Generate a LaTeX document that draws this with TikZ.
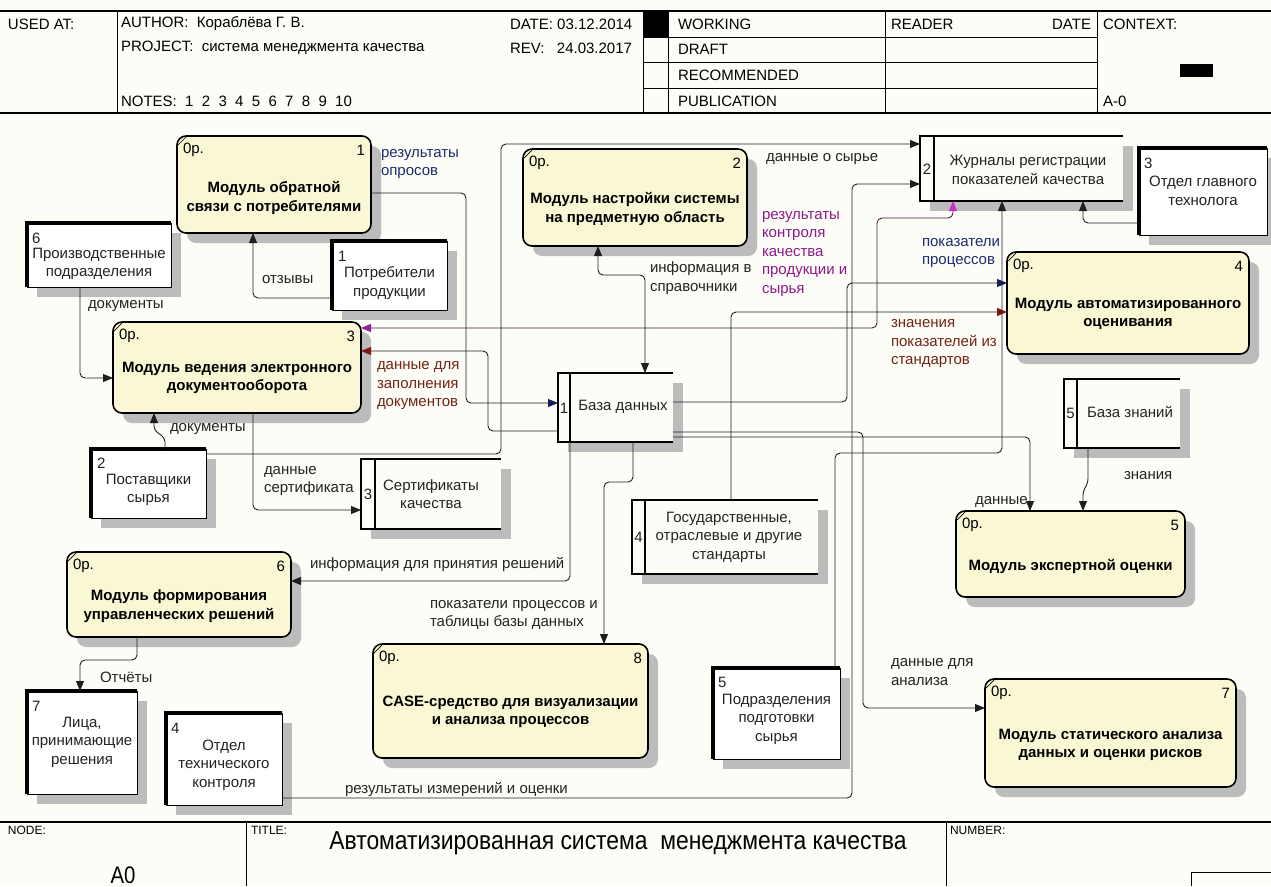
\documentclass[tikz,border=0pt]{standalone}
\usepackage{fontspec}
\setmainfont{Liberation Sans}
\usetikzlibrary{arrows.meta,shadows}
\definecolor{bgc}{RGB}{253,253,247}
\definecolor{fboxc}{RGB}{249,247,212}
\definecolor{shadc}{RGB}{188,188,188}
\definecolor{linec}{RGB}{30,30,30}
\definecolor{labc}{RGB}{35,35,35}
\definecolor{navyc}{RGB}{20,30,90}
\definecolor{redc}{RGB}{135,20,20}
\definecolor{purpc}{RGB}{150,30,150}
\definecolor{magc}{RGB}{195,50,195}
\definecolor{navylab}{RGB}{30,45,110}
\definecolor{redlab}{RGB}{115,35,20}
\definecolor{purplab}{RGB}{140,25,140}
\definecolor{purpline}{RGB}{70,25,70}
\begin{document}
\begin{tikzpicture}[x=1pt,y=-1pt,
  font=\fontsize{15}{18.5}\selectfont,
  every node/.style={inner sep=0pt, outer sep=0pt, text=labc},
  shad/.style={drop shadow={shadow xshift=10pt, shadow yshift=-10pt, fill=shadc, opacity=1}},
  fbox/.style={draw=black, line width=1.6pt, rounded corners=9pt, fill=fboxc, shad},
  ent/.style={draw=black, line width=1pt, fill=white, shad},
  store/.style={fill=bgc, shad},
  ftitle/.style={font=\fontsize{15}{18.5}\selectfont\bfseries, align=center, text=black},
  hdr/.style={anchor=west, text=black},
  lab/.style={anchor=west, align=left},
  conn/.style={draw=linec, line width=0.9pt, rounded corners=5pt},
  arr/.style={conn, -{Triangle[length=10pt,width=8pt]}},
  arrnavy/.style={conn, -{Triangle[length=10pt,width=8pt,color=navyc]}},
  arrred/.style={conn, -{Triangle[length=10pt,width=8pt,color=redc]}},
  arrboth/.style={conn, {Triangle[length=10pt,width=8pt]}-{Triangle[length=10pt,width=8pt]}},
  arrpurp/.style={conn, draw=purpline, {Triangle[length=10pt,width=8pt,color=magc]}-{Triangle[length=10pt,width=8pt,color=purpc]}}
]
\fill[bgc] (0,0) rectangle (1271,886);
\useasboundingbox (0,0) rectangle (1271,886);

% ---------- header ----------
\draw[line width=1.5pt] (0,11) -- (1271,11);
\draw[line width=1.5pt] (0,113) -- (1271,113);
\foreach \xx in {117,643,668,885,1097} \draw[line width=1pt] (\xx,11) -- (\xx,113);
\foreach \yy in {37,62,88} \draw[line width=1pt] (643,\yy) -- (1097,\yy);
\fill[black] (643,11) rectangle (668,37);
\fill[black] (1180,64) rectangle (1213,77);
\node[hdr] (hused) at (8,24) {USED AT:};
\node[hdr] (hauth) at (121,24) {AUTHOR:\ \ Кораблёва Г. В.};
\node[hdr] (hproj) at (121,48) {PROJECT:\ \ система менеджмента качества};
\node[hdr] (hnotes) at (121,101) {NOTES:\ \ 1\ \ 2\ \ 3\ \ 4\ \ 5\ \ 6\ \ 7\ \ 8\ \ 9\ \ 10};
\node[hdr] (hdate) at (510,24) {DATE:\ 03.12.2014};
\node[hdr] (hrev) at (510,48) {REV:\ \ \ 24.03.2017};
\node[hdr] (hwork) at (678,24) {WORKING};
\node[hdr] (hdraft) at (678,49) {DRAFT};
\node[hdr] (hrec) at (678,75) {RECOMMENDED};
\node[hdr] (hpub) at (678,101) {PUBLICATION};
\node[hdr] (hread) at (891,24) {READER};
\node[anchor=east, text=black] (hdate2) at (1091,24) {DATE};
\node[hdr] (hctx) at (1103,24) {CONTEXT:};
\node[hdr] (ha0) at (1103,101) {A-0};

% ---------- footer ----------
\draw[line width=1.8pt] (0,822) -- (1271,822);
\draw[line width=1pt] (246,822) -- (246,886);
\draw[line width=1pt] (946,822) -- (946,886);
\draw[line width=1pt] (1191,886) -- (1191,872) -- (1271,872);
\node[hdr, font=\fontsize{12}{14}\selectfont] (fnode) at (8,830) {NODE:};
\node[hdr, font=\fontsize{12}{14}\selectfont] (ftitlelab) at (251,830) {TITLE:};
\node[hdr, font=\fontsize{12}{14}\selectfont] (fnum) at (950,830) {NUMBER:};
\node[text=black, font=\fontsize{26}{28}\selectfont] (ftitletext) at (618,843) {\scalebox{0.88}[1]{Автоматизированная система\ \ менеджмента качества}};
\node[text=black, font=\fontsize{24}{26}\selectfont] (fa0) at (123,875) {\scalebox{0.85}[1]{A0}};

% ---------- function boxes ----------
\node[fbox, minimum width=194pt, minimum height=97pt] (F1) at (274,184.5) {};
\node[fbox, minimum width=224pt, minimum height=97pt] (F2) at (635,197.5) {};
\node[fbox, minimum width=248pt, minimum height=91pt] (F3) at (237,367.5) {};
\node[fbox, minimum width=242pt, minimum height=102pt] (F4) at (1128,303) {};
\node[fbox, minimum width=229pt, minimum height=86pt] (F5) at (1070.5,554) {};
\node[fbox, minimum width=224pt, minimum height=85pt] (F6) at (179,594.5) {};
\node[fbox, minimum width=251pt, minimum height=108pt] (F7) at (1110.5,733) {};
\node[fbox, minimum width=275pt, minimum height=114pt] (F8) at (510.5,701) {};
\foreach \f in {F1,F2,F3,F4,F5,F6,F7,F8}
  \draw[line width=0.7pt] ([xshift=1pt,yshift=-9pt]\f.north west) -- ([xshift=9pt,yshift=-1pt]\f.north west);

\node[anchor=west, text=black] (F1p) at (183,150) {0р.};
\node[anchor=east, text=black] (F1n) at (365,150) {1};
\node[anchor=west, text=black] (F2p) at (529,163) {0р.};
\node[anchor=east, text=black] (F2n) at (741,163) {2};
\node[anchor=west, text=black] (F3p) at (119,336) {0р.};
\node[anchor=east, text=black] (F3n) at (355,336) {3};
\node[anchor=west, text=black] (F4p) at (1013,266) {0р.};
\node[anchor=east, text=black] (F4n) at (1243,266) {4};
\node[anchor=west, text=black] (F5p) at (962,525) {0р.};
\node[anchor=east, text=black] (F5n) at (1179,525) {5};
\node[anchor=west, text=black] (F6p) at (73,566) {0р.};
\node[anchor=east, text=black] (F6n) at (285,566) {6};
\node[anchor=west, text=black] (F7p) at (991,693) {0р.};
\node[anchor=east, text=black] (F7n) at (1230,693) {7};
\node[anchor=west, text=black] (F8p) at (379,658) {0р.};
\node[anchor=east, text=black] (F8n) at (642,658) {8};

\node[ftitle] (F1t) at (274,198) {Модуль обратной\\связи с потребителями};
\node[ftitle] (F2t) at (635,209) {Модуль настройки системы\\на предметную область};
\node[ftitle] (F3t) at (237,378) {Модуль ведения электронного\\документооборота};
\node[ftitle] (F4t) at (1128,314) {Модуль автоматизированного\\оценивания};
\node[ftitle] (F5t) at (1070.5,566) {Модуль экспертной оценки};
\node[ftitle] (F6t) at (179,606) {Модуль формирования\\управленческих решений};
\node[ftitle] (F7t) at (1110.5,745) {Модуль статического анализа\\данных и оценки рисков};
\node[ftitle] (F8t) at (510.5,712) {CASE-средство для визуализации\\и анализа процессов};

% ---------- external entities ----------
\node[ent, minimum width=144pt, minimum height=64pt] (E6) at (99,255) {};
\node[ent, minimum width=115pt, minimum height=69pt] (E1) at (389.5,275.5) {};
\node[ent, minimum width=115pt, minimum height=69pt] (E2) at (148.5,483.5) {};
\node[ent, minimum width=110pt, minimum height=103pt] (E7) at (82,742.5) {};
\node[ent, minimum width=116pt, minimum height=92pt] (E4) at (224,759) {};
\node[ent, minimum width=127pt, minimum height=91pt] (E5) at (776.5,713.5) {};
\node[ent, minimum width=128pt, minimum height=87pt] (E3) at (1203,191.5) {};
\foreach \e in {E6,E1,E2,E7,E4,E5,E3}
  \draw[line width=4pt, line join=miter] (\e.south west) -- (\e.north west) -- (\e.north east);

\node[anchor=west] (E6n) at (32,238) {6};
\node[align=center] (E6t) at (99,264) {Производственные\\подразделения};
\node[anchor=west] (E1n) at (338,256) {1};
\node[align=center] (E1t) at (389.5,283) {Потребители\\продукции};
\node[anchor=west] (E2n) at (97,463) {2};
\node[align=center] (E2t) at (148.5,490) {Поставщики\\сырья};
\node[anchor=west] (E7n) at (32,706) {7};
\node[align=center] (E7t) at (82,742) {Лица,\\принимающие\\решения};
\node[anchor=west] (E4n) at (171,728) {4};
\node[align=center] (E4t) at (224,765) {Отдел\\технического\\контроля};
\node[anchor=west] (E5n) at (718,682) {5};
\node[align=center] (E5t) at (776.5,719) {Подразделения\\подготовки\\сырья};
\node[anchor=west] (E3n) at (1144,163) {3};
\node[align=center] (E3t) at (1203,191) {Отдел главного\\технолога};

% ---------- data stores ----------
\node[store, minimum width=115pt, minimum height=69pt] (S1) at (615.5,407.5) {};
\node[store, minimum width=203pt, minimum height=65pt] (S2) at (1021.5,168.5) {};
\node[store, minimum width=140pt, minimum height=70pt] (S3) at (431,494) {};
\node[store, minimum width=186pt, minimum height=74pt] (S4) at (725,537) {};
\node[store, minimum width=116pt, minimum height=69pt] (S5) at (1122,413.5) {};
\foreach \s/\d in {S1/570,S2/934,S3/375,S4/645,S5/1077} {
  \draw[line width=1.6pt] (\s.north east) -- (\s.north west) -- (\s.south west) -- (\s.south east);
  \draw[line width=1.2pt] (\s.north -| \d,0) -- (\s.south -| \d,0);
}
\node (S1n) at (564,408) {1};
\node (S1t) at (623,407) {База данных};
\node (S2n) at (927,169) {2};
\node[align=center] (S2t) at (1028,170) {Журналы регистрации\\показателей качества};
\node (S3n) at (368,494) {3};
\node[align=center] (S3t) at (431,494) {Сертификаты\\качества};
\node (S4n) at (638.5,537) {4};
\node[align=center] (S4t) at (729,537) {Государственные,\\отраслевые и другие\\стандарты};
\node (S5n) at (1070.5,413) {5};
\node (S5t) at (1130,412) {База знаний};

% ---------- connectors ----------
\draw[arr] (E1.west |- 0,298) -- (253,298) -- (F1.south -| 253,0);
\draw[arr] (E6.south -| 80,0) -- (80,378) -- (F3.west |- 0,378);
\draw[arr, rounded corners=4pt] (E2.north -| 165,0) -- (165,438) -- (154,430) -- (F3.south -| 154,0);
\draw[arrnavy] (F1.east |- 0,193) -- (466,193) -- (466,403) -- (S1.west |- 0,403);
\draw[arrred] (S1.west |- 0,431) -- (488,431) -- (488,351) -- (F3.east |- 0,351);
\draw[arrpurp] (S2.south -| 953,0) -- (953,218) -- (877,218) -- (877,328) -- (F3.east |- 0,328);
\draw[arr] (E2.east |- 0,454) -- (501,454) -- (501,144) -- (S2.west |- 0,144);
\draw[arr] (E4.east |- 0,798) -- (852,798) -- (852,184) -- (S2.west |- 0,184);
\draw[arrboth] (F2.south -| 598,0) -- (598,275) -- (645,275) -- (S1.north -| 645,0);
\draw[arrnavy] (S1.east |- 0,402) -- (847,402) -- (847,283) -- (F4.west |- 0,283);
\draw[arrred] (S4.north -| 731,0) -- (731,312) -- (F4.west |- 0,312);
\draw[arr] (E5.north -| 835,0) -- (835,453) -- (1002,453) -- (S2.south -| 1002,0);
\draw[arr] (E3.west |- 0,223) -- (1083,223) -- (S2.south -| 1083,0);
\draw[arr] (S1.east |- 0,432) -- (863,432) -- (863,708) -- (F7.west |- 0,708);
\draw[arr] (S1.east |- 0,437) -- (1030,437) -- (F5.north -| 1030,0);
\draw[arr, rounded corners=3pt] (S5.south -| 1088,0) -- (1088,482) -- (1083,492) -- (F5.north -| 1083,0);
\draw[arr] (S1.south -| 570,0) -- (570,581) -- (F6.east |- 0,581);
\draw[arr] (S1.south -| 633,0) -- (633,482) -- (604,482) -- (F8.north -| 604,0);
\draw[arr] (F3.south -| 253,0) -- (253,510) -- (S3.west |- 0,510);
\draw[arr] (F6.south -| 137,0) -- (137,660) -- (80,660) -- (E7.north -| 80,0);

% ---------- labels ----------
\node[lab] (L1) at (262,280) {отзывы};
\node[lab] (L2) at (88,306) {документы};
\node[lab] (L3) at (170,429) {документы};
\node[lab, text=navylab] (L4) at (381,164) {результаты\\опросов};
\node[lab, text=redlab] (L5) at (377,386) {данные для\\заполнения\\документов};
\node[lab] (L6) at (264,481) {данные\\сертификата};
\node[lab] (L7) at (650,278) {информация в\\справочники};
\node[lab, text=purplab] (L8) at (762,254) {результаты\\контроля\\качества\\продукции и\\сырья};
\node[lab] (L9) at (766,159) {данные о сырье};
\node[lab, text=navylab] (L10) at (922,253) {показатели\\процессов};
\node[lab, text=redlab] (L11) at (891,344) {значения\\показателей из\\стандартов};
\node[lab] (L12) at (310,564) {информация для принятия решений};
\node[lab] (L13) at (430,615) {показатели процессов и\\таблицы базы данных};
\node[lab] (L14) at (100,677) {Отчёты};
\node[lab] (L15) at (345,789) {результаты измерений и оценки};
\node[lab] (L16) at (891,672) {данные для\\анализа};
\node[lab] (L17) at (975,502) {данные};
\node[lab] (L18) at (1124,476) {знания};
\end{tikzpicture}
\end{document}
